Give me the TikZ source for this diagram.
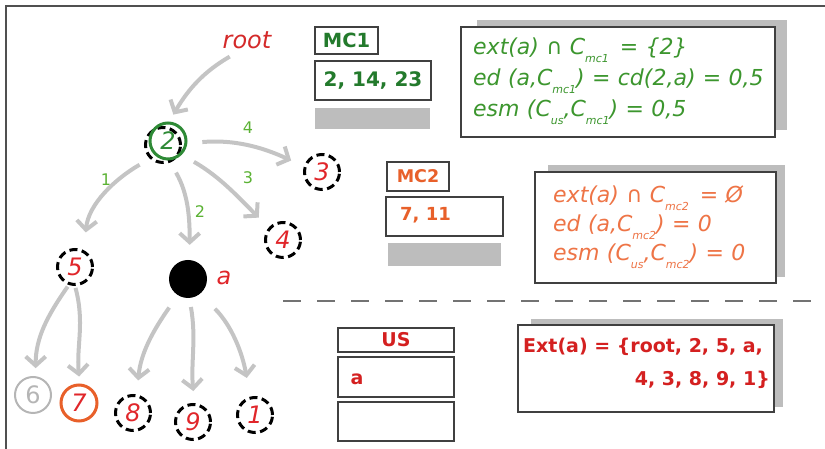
\documentclass[tikz,border=0pt]{standalone}
\usepackage{fontspec}
\setmainfont{DejaVu Sans}
\usetikzlibrary{arrows.meta}

\definecolor{arrgray}{HTML}{C4C4C4}
\definecolor{boxline}{HTML}{404040}
\definecolor{framegray}{HTML}{505050}
\definecolor{shadegray}{HTML}{BDBDBD}
\definecolor{rootred}{HTML}{D42A2A}
\definecolor{digred}{HTML}{E0262A}
\definecolor{lblgreen}{HTML}{5BB234}
\definecolor{mcgreen}{HTML}{237A2C}
\definecolor{lngreen}{HTML}{3C962E}
\definecolor{nodegreen}{HTML}{2E8A36}
\definecolor{mcorange}{HTML}{E8602A}
\definecolor{lnorange}{HTML}{EE7446}
\definecolor{extred}{HTML}{D42020}
\definecolor{sixgray}{HTML}{B5B5B5}

% lowered small index after a letter
\newcommand{\idx}[1]{\raisebox{-0.6ex}{\fontsize{11}{11}\selectfont #1}}

\begin{document}
\begin{tikzpicture}[x=1pt,y=1pt,
  arr/.style={draw=arrgray, line width=4,
    -{Straight Barb[length=9,width=20]}},
  dnode/.style={circle, draw=black, line width=3,
    dash pattern=on 8 off 4.5, minimum size=35, inner sep=0,
    text=digred, font=\fontsize{24}{24}\selectfont\itshape},
  elbl/.style={text=lblgreen, font=\fontsize{16}{16}\selectfont},
  box/.style={draw=boxline, line width=1.3, fill=white, rectangle, inner sep=0},
  bar/.style={fill=shadegray, rectangle, inner sep=0},
  shade/.style={fill=shadegray}
]
\useasboundingbox (0,0) rectangle (825,449);

% outer frame (left and top edges)
\draw[framegray, line width=1.8] (6,0) -- (6,443) -- (825,443);

% ---------- tree ----------
\node[text=rootred, font=\fontsize{24}{24}\selectfont\itshape] (root) at (247,409) {root};

\node[dnode] (n2d) at (163,304) {};
\node[circle, draw=nodegreen, line width=3, minimum size=36, inner sep=0,
      text=nodegreen, font=\fontsize{24}{24}\selectfont\itshape] (n2) at (168,308) {2};
\node[dnode] (n3) at (322,277) {3};
\node[dnode] (n4) at (283,209) {4};
\node[dnode] (n5) at (75,182) {5};
\node[circle, fill=black, minimum size=38, inner sep=0] (na) at (188,170) {};
\node[text=digred, font=\fontsize{24}{24}\selectfont\itshape] (alab) at (224,171) {a};
\node[circle, draw=sixgray, line width=2, minimum size=36, inner sep=0,
      text=sixgray, font=\fontsize{24}{24}\selectfont] (n6) at (33,54) {6};
\node[circle, draw=mcorange, line width=3, minimum size=36, inner sep=0,
      text=digred, font=\fontsize{24}{24}\selectfont\itshape] (n7) at (79,46) {7};
\node[dnode] (n8) at (133,36) {8};
\node[dnode] (n9) at (193,27) {9};
\node[dnode] (n1) at (255,34) {1};

% tree edges
\draw[arr, shorten <=9, shorten >=8] (root.232) to[out=210,in=60] (n2.86);
\draw[arr, shorten <=15, shorten >=14] (n2.-7) to[out=5,in=155] (n3.163);
\draw[arr, shorten <=14, shorten >=14] (n2.-45) to[out=-30,in=135] (n4.139);
\draw[arr, shorten <=14, shorten >=15] (n2.-87) to[out=-60,in=90] (na.85);
\draw[arr, shorten <=18, shorten >=18] (n2.229) to[out=210,in=85] (n5.61);
\draw[arr, shorten <=2, shorten >=8] (n5.251) to[out=235,in=90] (n6.82);
\draw[arr, shorten <=2, shorten >=7] (n5.-90) to[out=-75,in=95] (n7.88);
\draw[arr, shorten <=15, shorten >=14] (na.238) to[out=235,in=85] (n8.78);
\draw[arr, shorten <=9, shorten >=12] (na.-86) to[out=-80,in=95] (n9.86);
\draw[arr, shorten <=21, shorten >=19] (na.-51) to[out=-45,in=100] (n1.105);

% edge numbers
\node[elbl] (e4) at (248,321) {4};
\node[elbl] (e3) at (248,271) {3};
\node[elbl] (e2) at (200,237) {2};
\node[elbl] (e1) at (106,269) {1};

% ---------- MC1 ----------
\node[box, minimum width=63, minimum height=27, text=mcgreen,
      font=\fontsize{19.5}{20}\selectfont\bfseries] (mc1) at (346.5,408.5) {MC1};
\node[box, minimum width=116, minimum height=39, text=mcgreen,
      font=\fontsize{20}{20}\selectfont\bfseries] (mc1v) at (373,368.5) {2, 14, 23};
\node[bar, minimum width=115, minimum height=21] (mc1bar) at (372.5,330.5) {};

\fill[shade] (477,319) rectangle (787,429);
\node[box, minimum width=314, minimum height=110] (mc1box) at (618,367) {};
\node[anchor=north west, text width=300, align=left, inner sep=0, text=lngreen,
      font=\fontsize{22}{31}\selectfont\itshape] (mc1txt) at (473,411)
  {ext(a) ∩ C\idx{mc1}\, = \{2\}\\
   ed (a,C\idx{mc1}) = cd(2,a) = 0,5\\
   esm (C\idx{us},C\idx{mc1}) = 0,5};

% ---------- MC2 ----------
\node[box, minimum width=62, minimum height=29, text=mcorange,
      font=\fontsize{17.5}{18}\selectfont\bfseries] (mc2) at (418,272.5) {MC2};
\node[box, minimum width=117, minimum height=39] (mc2v) at (444.5,232.5) {};
\node[anchor=west, inner sep=0, text=mcorange,
      font=\fontsize{18}{18}\selectfont\bfseries] (mc2vt) at (400,234) {7, 11};
\node[bar, minimum width=113, minimum height=23] (mc2bar) at (444.5,194.5) {};

\fill[shade] (548,172) rectangle (785,284);
\node[box, minimum width=241, minimum height=111] (mc2box) at (655.5,221.5) {};
\node[anchor=north west, text width=220, align=left, inner sep=0, text=lnorange,
      font=\fontsize{22}{29}\selectfont\itshape] (mc2txt) at (553,263)
  {ext(a) ∩ C\idx{mc2}\, = Ø\\
   ed (a,C\idx{mc2}) = 0\\
   esm (C\idx{us},C\idx{mc2}) = 0};

% divider
\draw[framegray!80, line width=1.6, dash pattern=on 18 off 16] (283,148) -- (825,148);

% ---------- US ----------
\node[box, minimum width=116, minimum height=24, text=extred,
      font=\fontsize{19}{19}\selectfont\bfseries] (us) at (396,109) {US};
\node[box, minimum width=116, minimum height=40] (usa) at (396,72) {};
\node[inner sep=0, text=extred, font=\fontsize{19}{19}\selectfont\bfseries] (usat) at (357,70) {a};
\node[box, minimum width=116, minimum height=39] (use) at (396,27.5) {};

\fill[shade] (531,42) rectangle (783,130);
\node[box, minimum width=256, minimum height=87] (extbox) at (646,80.5) {};
\node[anchor=west, inner sep=0, text=extred,
      font=\fontsize{19}{19}\selectfont\bfseries] (ext1) at (523,102) {Ext(a) = \{root, 2, 5, a,};
\node[anchor=east, inner sep=0, text=extred,
      font=\fontsize{19}{19}\selectfont\bfseries] (ext2) at (770,69) {4, 3, 8, 9, 1\}};
\end{tikzpicture}
\end{document}
